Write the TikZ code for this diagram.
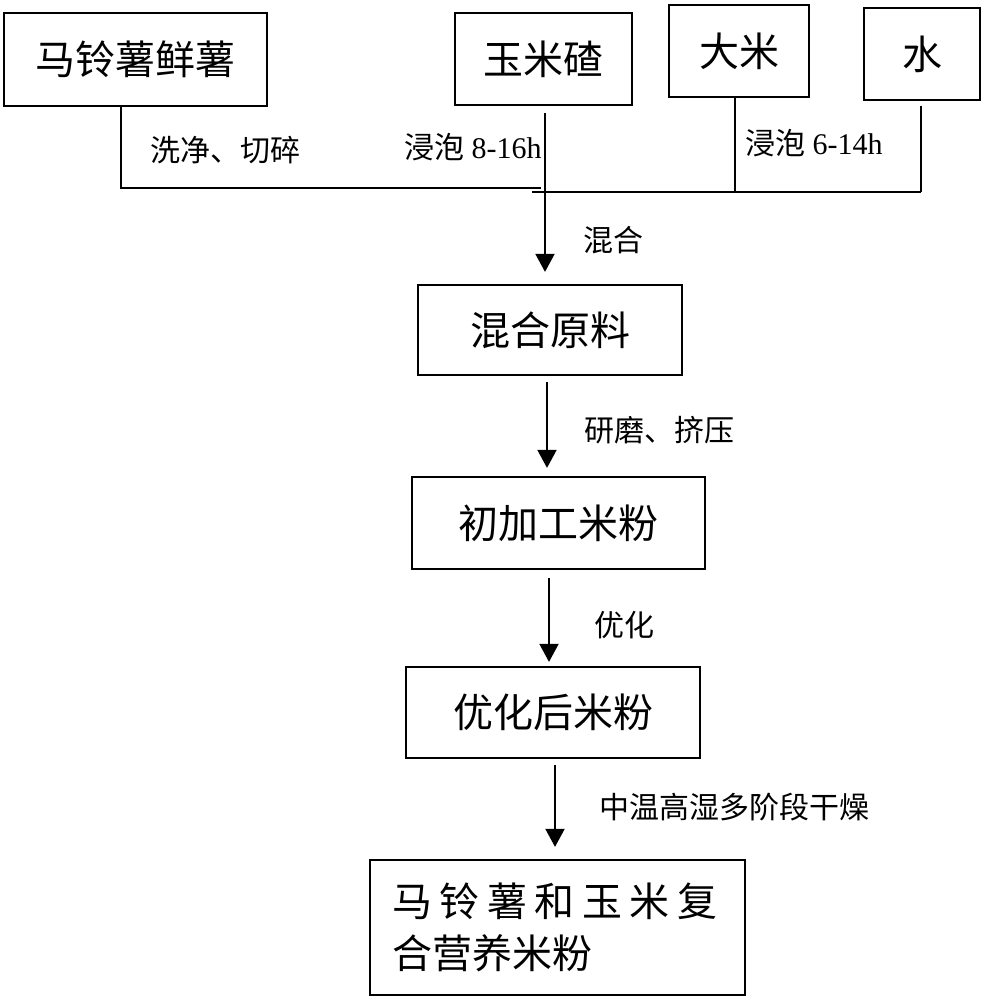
\documentclass[tikz,border=0pt]{standalone}
\usepackage{fontspec}
\setmainfont{Liberation Serif}
\newfontfamily\cjk{Noto Sans CJK SC}
\usetikzlibrary{arrows.meta}
\newcommand\gapx{\hspace{7.5pt}}
\begin{document}
\begin{tikzpicture}[x=1pt,y=-1pt,
  box/.style={draw,line width=2.2pt,inner sep=0pt,font=\cjk\fontsize{40}{48}\selectfont},
  lbl/.style={anchor=west,inner sep=0pt,font=\fontsize{30}{36}\selectfont},
  conn/.style={line width=1.8pt},
  arr/.style={line width=1.8pt,-{Triangle[width=19pt,length=18pt]}}]
\useasboundingbox (0,0) rectangle (984,1000);
% boxes
\node[box,minimum width=263pt,minimum height=93pt] (A) at (135.5,59.5) {马铃薯鲜薯};
\node[box,minimum width=177pt,minimum height=92pt] (B) at (543.5,59) {玉米碴};
\node[box,minimum width=140pt,minimum height=92pt] (C) at (739,51) {大米};
\node[box,minimum width=116pt,minimum height=92pt] (D) at (922,54) {水};
\node[box,minimum width=264pt,minimum height=90pt] (E) at (550,330) {混合原料};
\node[box,minimum width=293pt,minimum height=92pt] (F) at (558.5,523) {初加工米粉};
\node[box,minimum width=294pt,minimum height=91pt] (G) at (553,712.5) {优化后米粉};
\node[box,minimum width=375pt,minimum height=135pt,text width=331pt,inner xsep=22pt,align=left,
  font=\cjk\fontsize{40}{52}\selectfont] (H) at (557.5,927.5)
  {马\gapx 铃\gapx 薯\gapx 和\gapx 玉\gapx 米\gapx 复\\合营养米粉};
% labels
\node[lbl] (lA) at (150,150) {\cjk 洗净、切碎};
\node[lbl] (lB) at (404,147) {{\cjk 浸泡} 8-16h};
\node[lbl] (lC) at (745,143) {{\cjk 浸泡} 6-14h};
\node[lbl] (l1) at (583,240) {\cjk 混合};
\node[lbl] (l2) at (584,430) {\cjk 研磨、挤压};
\node[lbl] (l3) at (594,625) {\cjk 优化};
\node[lbl] (l4) at (599,807) {\cjk 中温高湿多阶段干燥};
% coordinates
\coordinate (j1) at (121,188);
\coordinate (j2) at (541,188);
\coordinate (m0) at (545,113);
\coordinate (r0) at (532,192);
\coordinate (r1) at (921,192);
\coordinate (c1) at (735,192);
\coordinate (d0) at (921,106);
\coordinate (e0) at (547,382);
\coordinate (f0) at (549,578);
\coordinate (g0) at (555,765);
% connectors
\draw[conn] (A.south -| j1) -- (j1) -- (j2);
\draw[conn] (r0) -- (r1);
\draw[conn] (C.south -| c1) -- (c1);
\draw[conn] (d0) -- (r1);
\draw[arr,shorten >=12pt] (m0) -- (E.north -| m0);
\draw[arr,shorten >=8pt] (e0) -- (F.north -| e0);
\draw[arr,shorten >=4pt] (f0) -- (G.north -| f0);
\draw[arr,shorten >=12pt] (g0) -- (H.north -| g0);
\end{tikzpicture}
\end{document}
